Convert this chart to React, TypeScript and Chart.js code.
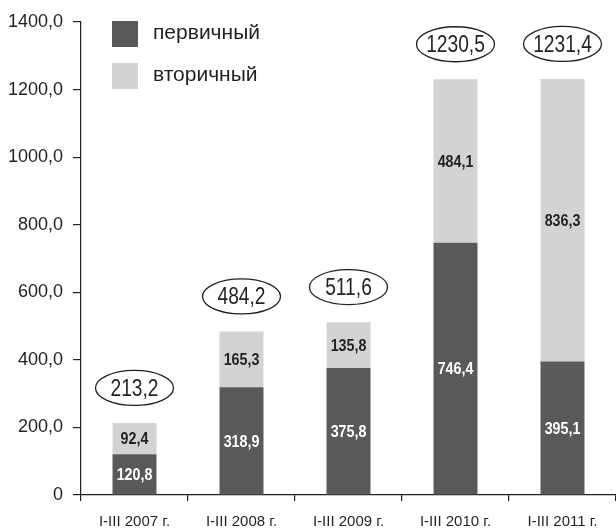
import React, { useEffect, useRef } from "react";
import { Chart, registerables } from "chart.js";

Chart.register(...registerables);

const categories = ["I-III 2007 г.", "I-III 2008 г.", "I-III 2009 г.", "I-III 2010 г.", "I-III 2011 г."];
const primaryValues = [120.8, 318.9, 375.8, 746.4, 395.1];
const secondaryValues = [92.4, 165.3, 135.8, 484.1, 836.3];
const totalLabels = ["213,2", "484,2", "511,6", "1230,5", "1231,4"];
const yTickLabels = ["0", "200,0", "400,0", "600,0", "800,0", "1000,0", "1200,0", "1400,0"];
const seriesNames = ["первичный", "вторичный"];
const seriesColors = ["#58595b", "#d1d3d4"];

const FONT = "'Liberation Sans', Arial, sans-serif";
const INK = "#231f20";

const fmt = (v: number) => v.toFixed(1).replace(".", ",");

function narrowText(ctx: any, text: string, x: number, y: number, sx: number) {
  ctx.save();
  ctx.translate(x, y);
  ctx.scale(sx, 1);
  ctx.fillText(text, 0, 0);
  ctx.restore();
}

const overlayPlugin = {
  id: "overlay",
  afterDatasetsDraw(chart: any) {
    const ctx = chart.ctx;
    ctx.save();
    // segment labels
    chart.data.datasets.forEach((ds: any, di: number) => {
      const meta = chart.getDatasetMeta(di);
      meta.data.forEach((el: any, i: number) => {
        const y = (el.y + el.base) / 2;
        ctx.font = `bold 17px ${FONT}`;
        ctx.fillStyle = di === 0 ? "#ffffff" : INK;
        ctx.textAlign = "center";
        ctx.textBaseline = "middle";
        narrowText(ctx, fmt(ds.data[i]), el.x, y + 1, 0.84);
      });
    });
    // totals in ellipses
    const top = chart.getDatasetMeta(chart.data.datasets.length - 1);
    top.data.forEach((el: any, i: number) => {
      const cy = el.y - 35;
      ctx.beginPath();
      ctx.ellipse(el.x, cy, 39, 17.5, 0, 0, Math.PI * 2);
      ctx.lineWidth = 1.3;
      ctx.strokeStyle = INK;
      ctx.stroke();
      ctx.font = `24px ${FONT}`;
      ctx.fillStyle = INK;
      ctx.textAlign = "center";
      ctx.textBaseline = "middle";
      narrowText(ctx, totalLabels[i], el.x, cy + 1, 0.8);
    });
    // legend
    const lx = 112;
    const ly = [21, 63];
    seriesNames.forEach((name, i) => {
      ctx.fillStyle = seriesColors[i];
      ctx.fillRect(lx, ly[i], 26, 26);
      ctx.font = `21px ${FONT}`;
      ctx.fillStyle = INK;
      ctx.textAlign = "left";
      ctx.textBaseline = "middle";
      ctx.fillText(name, 153, ly[i] + 12);
    });
    ctx.restore();
  },
};

export default function App() {
  const ref = useRef<HTMLCanvasElement>(null);
  useEffect(() => {
    if (!ref.current) return;
    const chart = new Chart(ref.current, {
      type: "bar",
      data: {
        labels: categories,
        datasets: [
          {
            label: seriesNames[0],
            data: primaryValues,
            backgroundColor: seriesColors[0],
            categoryPercentage: 1,
            barPercentage: 0.411,
          },
          {
            label: seriesNames[1],
            data: secondaryValues,
            backgroundColor: seriesColors[1],
            categoryPercentage: 1,
            barPercentage: 0.411,
          },
        ],
      },
      options: {
        responsive: false,
        animation: false,
        layout: { padding: { top: 22, right: 0, left: 0, bottom: 0 } },
        plugins: { legend: { display: false }, tooltip: { enabled: false } },
        scales: {
          x: {
            stacked: true,
            afterFit: (s: any) => {
              s.height = 34;
            },
            border: { display: true, color: INK, width: 1.2 },
            grid: {
              offset: true,
              drawOnChartArea: false,
              drawTicks: true,
              tickLength: 6,
              color: INK,
              lineWidth: 1.2,
            },
            ticks: {
              color: INK,
              font: { family: FONT, size: 15 },
              padding: 12,
              maxRotation: 0,
              autoSkip: false,
            },
          },
          y: {
            stacked: true,
            min: 0,
            max: 1400,
            afterFit: (s: any) => {
              s.width = 81;
            },
            border: { display: true, color: INK, width: 1.2 },
            grid: {
              drawOnChartArea: false,
              drawTicks: true,
              tickLength: 8,
              color: INK,
              lineWidth: 1.2,
            },
            ticks: {
              stepSize: 200,
              color: INK,
              padding: 10,
              font: { family: FONT, size: 18 },
              callback: (v: any) => yTickLabels[Math.round(Number(v) / 200)],
            },
          },
        },
      },
      plugins: [overlayPlugin],
    });
    return () => chart.destroy();
  }, []);
  return (
    <div style={{ position: "absolute", left: 0, top: 0, width: 616, height: 529, background: "#fff" }}>
      <canvas ref={ref} width={616} height={529} style={{ display: "block" }} />
    </div>
  );
}
